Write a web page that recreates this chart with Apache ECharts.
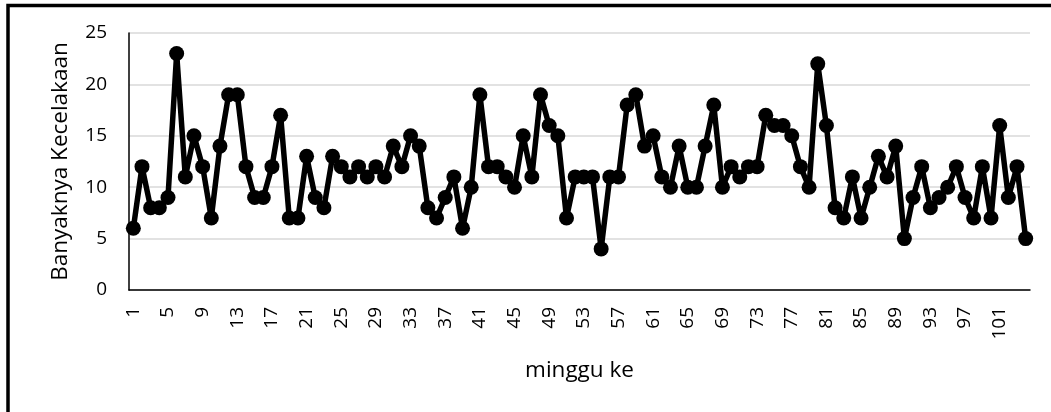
<!DOCTYPE html>
<html>
<head>
<meta charset="utf-8">
<script src="https://cdn.jsdelivr.net/npm/echarts@6/dist/echarts.min.js"></script>
<style>
html,body{margin:0;padding:0;background:#fff;}
#main{width:1051px;height:412px;}
</style>
</head>
<body>
<div id="main"></div>
<script>
var weeks = [];
for (var i = 1; i <= 104; i++) weeks.push(String(i));
var accidents = [
  6, 12, 8, 8, 9, 23, 11, 15, 12, 7,
  14, 19, 19, 12, 9, 9, 12, 17, 7, 7,
  13, 9, 8, 13, 12, 11, 12, 11, 12, 11,
  14, 12, 15, 14, 8, 7, 9, 11, 6, 10,
  19, 12, 12, 11, 10, 15, 11, 19, 16, 15,
  7, 11, 11, 11, 4, 11, 11, 18, 19, 14,
  15, 11, 10, 14, 10, 10, 14, 18, 10, 12,
  11, 12, 12, 17, 16, 16, 15, 12, 10, 22,
  16, 8, 7, 11, 7, 10, 13, 11, 14, 5,
  9, 12, 8, 9, 10, 12, 9, 7, 12, 7,
  16, 9, 12, 5
];
var xTitle = 'minggu ke';
var yTitle = 'Banyaknya Kecelakaan';

var FONT = '"Open Sans", sans-serif';
var chart = echarts.init(document.getElementById('main'), null, {renderer: 'canvas'});
chart.setOption({
  animation: false,
  backgroundColor: '#fff',
  graphic: [{
    type: 'rect',
    shape: {x: 8, y: 5.5, width: 1200, height: 600},
    style: {fill: 'none', stroke: '#000', lineWidth: 3.5},
    silent: true
  }],
  grid: {left: 129, right: 21, top: 33, bottom: 122, containLabel: false},
  xAxis: {
    type: 'category',
    data: weeks,
    boundaryGap: true,
    name: xTitle,
    nameLocation: 'middle',
    nameGap: 69,
    nameTextStyle: {fontFamily: FONT, fontSize: 22.5, color: '#000'},
    axisLine: {show: true, lineStyle: {color: '#000', width: 1.5}},
    axisTick: {show: false},
    axisLabel: {
      interval: 3,
      rotate: 90,
      margin: 17,
      fontFamily: FONT,
      fontSize: 19,
      color: '#000'
    },
    splitLine: {show: false}
  },
  yAxis: {
    type: 'value',
    min: 0,
    max: 25,
    interval: 5,
    name: yTitle,
    nameLocation: 'middle',
    nameGap: 57,
    nameTextStyle: {fontFamily: FONT, fontSize: 22.5, color: '#000'},
    axisLine: {show: true, lineStyle: {color: '#000', width: 1.5}},
    axisTick: {show: false},
    axisLabel: {margin: 22, fontFamily: FONT, fontSize: 19, color: '#000'},
    splitLine: {show: true, lineStyle: {color: '#d9d9d9', width: 1.5}}
  },
  series: [{
    type: 'line',
    data: accidents,
    symbol: 'circle',
    symbolSize: 15,
    showAllSymbol: true,
    lineStyle: {color: '#000', width: 5.5},
    itemStyle: {color: '#000'},
    z: 3
  }]
});
</script>
</body>
</html>
